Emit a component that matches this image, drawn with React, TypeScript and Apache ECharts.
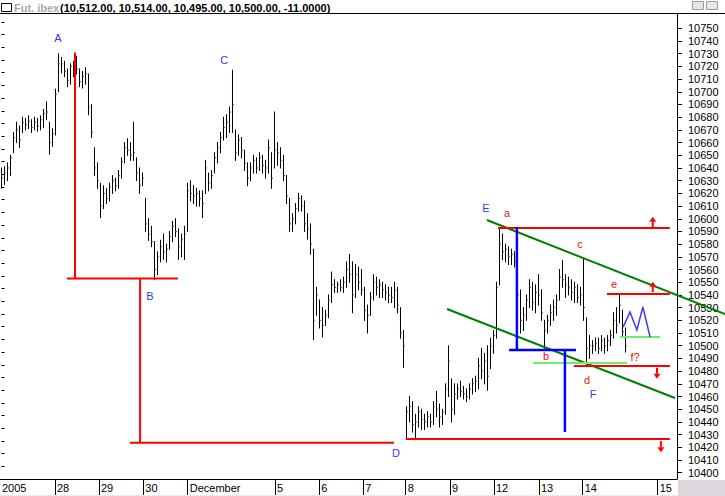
import React, { useEffect, useRef } from "react";
import * as echarts from "echarts";

// ---- price bars (one per slot, left to right) ----
const highs = [
  10640, 10641, 10644, 10650, 10668, 10676, 10673, 10680, 10679, 10681, 10678, 10680, 10679, 10681, 10686, 10692, 10676, 10671, 10702, 10730,
  10727, 10724, 10718, 10722, 10724, 10728, 10718, 10716, 10719, 10714, 10690, 10656, 10644, 10628, 10626, 10624, 10628, 10634, 10632, 10638,
  10648, 10660, 10663, 10660, 10676, 10648, 10640, 10636, 10616, 10600, 10594, 10582, 10574, 10583, 10588, 10580, 10590, 10598, 10600, 10592,
  10588, 10594, 10628, 10630, 10626, 10624, 10622, 10622, 10646, 10636, 10638, 10652, 10660, 10668, 10680, 10682, 10688, 10717, 10670, 10666,
  10664, 10654, 10644, 10644, 10650, 10648, 10652, 10650, 10646, 10662, 10652, 10684, 10660, 10656, 10650, 10634, 10616, 10604, 10612, 10620,
  10618, 10614, 10604, 10596, 10576, 10546, 10536, 10530, 10528, 10540, 10558, 10552, 10550, 10552, 10554, 10566, 10572, 10566, 10564, 10562,
  10560, 10546, 10532, 10542, 10556, 10554, 10552, 10550, 10548, 10546, 10546, 10550, 10546, 10530, 10512, 10452, 10460, 10456, 10446, 10452,
  10450, 10446, 10448, 10446, 10456, 10464, 10454, 10450, 10470, 10500, 10474, 10470, 10470, 10472, 10468, 10466, 10470, 10474, 10476, 10490,
  10498, 10494, 10500, 10506, 10512, 10550, 10593, 10588, 10580, 10578, 10576, 10574, 10566, 10544, 10530, 10540, 10552, 10550, 10548, 10556,
  10544, 10520, 10524, 10532, 10536, 10540, 10560, 10567, 10556, 10554, 10552, 10550, 10548, 10546, 10568, 10522, 10508, 10504, 10506, 10506,
  10508, 10506, 10508, 10512, 10526, 10530, 10540, 10528, 10514,
];
const lows = [
  10624, 10627, 10630, 10634, 10652, 10660, 10656, 10668, 10670, 10671, 10668, 10670, 10669, 10670, 10672, 10678, 10651, 10657, 10666, 10700,
  10715, 10712, 10704, 10706, 10712, 10714, 10704, 10703, 10706, 10682, 10664, 10634, 10624, 10601, 10608, 10612, 10614, 10620, 10622, 10624,
  10632, 10644, 10650, 10646, 10646, 10630, 10620, 10626, 10590, 10583, 10578, 10552, 10556, 10566, 10568, 10566, 10576, 10582, 10586, 10568,
  10570, 10568, 10590, 10614, 10612, 10610, 10610, 10601, 10620, 10622, 10624, 10636, 10644, 10652, 10662, 10664, 10668, 10668, 10646, 10650,
  10648, 10638, 10626, 10630, 10636, 10636, 10638, 10636, 10632, 10636, 10624, 10640, 10642, 10640, 10630, 10612, 10590, 10590, 10596, 10606,
  10606, 10590, 10584, 10572, 10505, 10524, 10514, 10507, 10516, 10522, 10534, 10542, 10542, 10543, 10542, 10546, 10550, 10526, 10538, 10544,
  10540, 10520, 10510, 10524, 10536, 10540, 10538, 10538, 10536, 10534, 10534, 10530, 10526, 10506, 10483, 10427, 10440, 10432, 10426, 10436,
  10434, 10434, 10436, 10436, 10438, 10444, 10436, 10438, 10446, 10460, 10440, 10446, 10458, 10460, 10458, 10456, 10458, 10462, 10464, 10466,
  10474, 10470, 10465, 10482, 10494, 10506, 10548, 10568, 10566, 10564, 10564, 10562, 10530, 10510, 10512, 10520, 10530, 10528, 10526, 10532,
  10520, 10498, 10510, 10516, 10520, 10524, 10536, 10546, 10538, 10540, 10536, 10534, 10534, 10532, 10520, 10485, 10490, 10494, 10496, 10494,
  10496, 10494, 10496, 10500, 10506, 10510, 10518, 10508, 10495,
];
const closes = [
  10632, 10636, 10640, 10648, 10664, 10670, 10662, 10676, 10674, 10677, 10672, 10676, 10673, 10678, 10683, 10684, 10660, 10667, 10698, 10722,
  10722, 10716, 10709, 10720, 10722, 10718, 10708, 10712, 10714, 10688, 10668, 10640, 10630, 10610, 10620, 10616, 10625, 10630, 10626, 10634,
  10645, 10656, 10654, 10650, 10652, 10636, 10626, 10632, 10596, 10588, 10582, 10560, 10570, 10578, 10574, 10576, 10586, 10594, 10590, 10578,
  10584, 10588, 10622, 10620, 10618, 10620, 10616, 10612, 10640, 10628, 10634, 10648, 10656, 10664, 10672, 10676, 10684, 10690, 10652, 10662,
  10654, 10644, 10632, 10640, 10646, 10640, 10648, 10642, 10640, 10656, 10632, 10654, 10652, 10646, 10634, 10618, 10596, 10600, 10608, 10616,
  10610, 10596, 10592, 10580, 10520, 10540, 10520, 10516, 10524, 10536, 10548, 10546, 10548, 10546, 10550, 10560, 10556, 10540, 10556, 10550,
  10544, 10528, 10524, 10538, 10550, 10546, 10548, 10544, 10542, 10540, 10538, 10544, 10532, 10510, 10500, 10448, 10452, 10438, 10440, 10448,
  10442, 10440, 10444, 10440, 10452, 10450, 10444, 10448, 10466, 10488, 10450, 10462, 10466, 10464, 10462, 10460, 10466, 10470, 10472, 10484,
  10480, 10488, 10476, 10500, 10508, 10546, 10580, 10574, 10576, 10570, 10572, 10566, 10540, 10520, 10524, 10536, 10546, 10534, 10542, 10540,
  10526, 10512, 10520, 10526, 10530, 10536, 10554, 10552, 10548, 10546, 10542, 10546, 10538, 10540, 10530, 10498, 10500, 10500, 10502, 10498,
  10504, 10500, 10504, 10508, 10520, 10516, 10532, 10511, 10500,
];

// ---- axes ----
const yearLabel = "2005";
const yearPos = -0.5;
const dayTickPos = [17.83, 32.5, 47.27, 62.07, 91.17, 105.93, 120.6, 134.73, 149.5, 164.17, 179.17, 193.73, 218.73];
const dayLabels = ["28", "29", "30", "December", "5", "6", "7", "8", "9", "12", "13", "14", "15"];
const yTickValues = [
  10400, 10410, 10420, 10430, 10440, 10450, 10460, 10470, 10480, 10490, 10500, 10510, 10520, 10530, 10540, 10550, 10560, 10570,
  10580, 10590, 10600, 10610, 10620, 10630, 10640, 10650, 10660, 10670, 10680, 10690, 10700, 10710, 10720, 10730, 10740, 10750,
];
const yMinorTickValues = [
  10405, 10415, 10425, 10435, 10445, 10455, 10465, 10475, 10485, 10495, 10505, 10515, 10525, 10535, 10545, 10555, 10565, 10575,
  10585, 10595, 10605, 10615, 10625, 10635, 10645, 10655, 10665, 10675, 10685, 10695, 10705, 10715, 10725, 10735, 10745, 10755,
];

// ---- header ----
const headerName = "Fut. ibex";
const headerValues = [10512, 10514, 10495, 10500];
const headerChange = -11;

// ---- annotations (x in bar slots, y in price) ----
const redSegments = [
  [[24.5, 10731], [24.5, 10553]],
  [[21.8, 10553], [58.8, 10553]],
  [[46.2, 10553], [46.2, 10423.5]],
  [[42.8, 10423.5], [130.8, 10423.5]],
  [[134.8, 10426.5], [222.8, 10426.5]],
  [[165.5, 10592.7], [222.8, 10592.7]],
  [[201.8, 10540.7], [222.8, 10540.7]],
  [[190.8, 10484], [222.8, 10484]],
];
const redArrows = [
  [217.1, 10593.5, 10601.6],
  [217.1, 10542.3, 10550.4],
  [218.5, 10482.7, 10474.0],
  [219.8, 10424.9, 10416.2],
];
const greenSegments = [
  [[161.8, 10599], [241.2, 10524.9]],
  [[148.5, 10528.9], [224.5, 10458.8]],
];
const lightGreenSegments = [
  [[177.2, 10486.4], [208.5, 10486.4]],
  [[206.2, 10506.9], [219.5, 10506.9]],
];
const blueSegments = [
  [[171.8, 10593.5], [171.8, 10496.6]],
  [[169.2, 10496.6], [191.5, 10496.6]],
  [[187.8, 10496.6], [187.8, 10432.1]],
];
const blueZigzag = [[207.2, 10514.7], [209.5, 10526.6], [211.8, 10512.4], [213.8, 10530.5], [216.2, 10506.9]];
const waveLabels: [string, number, number][] = [
  ["A", 18.8, 10742.4], ["B", 49.5, 10539.2], ["C", 74.2, 10725], ["D", 131.5, 10415.5], ["E", 161.5, 10608.5], ["F", 197.2, 10462.3],
];
const subLabels: [string, number, number][] = [
  ["a", 168.5, 10604.5], ["b", 181.5, 10491.9], ["c", 192.8, 10580.1], ["d", 195.2, 10473.1], ["e", 204.2, 10548.6], ["f?", 211.2, 10491.1],
];

const FONT = "'Liberation Sans', Arial, sans-serif";

type Shape =
  | { kind: "poly"; pts: number[][]; color: string; width: number }
  | { kind: "arrow"; x: number; from: number; to: number; color: string }
  | { kind: "text"; text: string; x: number; y: number; color: string };

function buildShapes(): Shape[] {
  const s: Shape[] = [];
  greenSegments.forEach((p) => s.push({ kind: "poly", pts: p, color: "#008000", width: 2 }));
  lightGreenSegments.forEach((p) => s.push({ kind: "poly", pts: p, color: "#6bf06b", width: 2 }));
  redSegments.forEach((p) => s.push({ kind: "poly", pts: p, color: "#ff0000", width: 2 }));
  redArrows.forEach((a) => s.push({ kind: "arrow", x: a[0], from: a[1], to: a[2], color: "#ff0000" }));
  blueSegments.forEach((p) => s.push({ kind: "poly", pts: p, color: "#0000ff", width: 2.5 }));
  s.push({ kind: "poly", pts: blueZigzag, color: "#3d3dff", width: 1.5 });
  waveLabels.forEach((l) => s.push({ kind: "text", text: l[0], x: l[1], y: l[2], color: "#3535ff" }));
  subLabels.forEach((l) => s.push({ kind: "text", text: l[0], x: l[1], y: l[2], color: "#f01010" }));
  return s;
}

export default function App() {
  const ref = useRef<HTMLDivElement>(null);
  useEffect(() => {
    if (!ref.current) return;
    const chart = echarts.init(ref.current, null, { renderer: "svg" });
    const shapes = buildShapes();
    const allLabelPos = [yearPos, ...dayTickPos];
    const allLabelText = [yearLabel, ...dayLabels];
    const fmt = (v: number) => v.toLocaleString("en-US", { minimumFractionDigits: 2, maximumFractionDigits: 2 });
    const headerText = "(" + headerValues.map(fmt).join(", ") + ", " + headerChange.toFixed(4) + ")";
    const yMin = 10395.04;
    const yMax = 10761.26;

    chart.setOption({
      animation: false,
      backgroundColor: "#ffffff",
      grid: { left: 0, top: 14, width: 677, height: 465, containLabel: false, outerBoundsMode: "none" },
      xAxis: {
        type: "value",
        min: -0.5,
        max: 225.17,
        splitLine: { show: false },
        axisLine: { show: true, onZero: false, lineStyle: { color: "#000", width: 1 } },
        axisTick: { show: true, length: 16, customValues: dayTickPos, lineStyle: { color: "#000" } },
        axisLabel: {
          customValues: allLabelPos,
          formatter: (v: number) => {
            const i = allLabelPos.findIndex((p) => Math.abs(p - v) < 0.01);
            return i >= 0 ? allLabelText[i] : "";
          },
          align: "left",
          padding: [0, 0, 0, 2],
          margin: 3,
          fontSize: 11,
          fontFamily: FONT,
          color: "#000",
        },
      },
      yAxis: [
        {
          type: "value",
          position: "right",
          min: yMin,
          max: yMax,
          splitLine: { show: false },
          axisLine: { show: true, onZero: false, lineStyle: { color: "#000", width: 1 } },
          axisTick: { show: true, length: 5, customValues: yTickValues, lineStyle: { color: "#000" } },
          axisLabel: {
            customValues: yTickValues,
            margin: 11,
            fontSize: 11,
            fontFamily: FONT,
            color: "#000",
            formatter: (v: number) => String(v),
          },
        },
        {
          type: "value",
          position: "right",
          offset: 0,
          min: yMin,
          max: yMax,
          splitLine: { show: false },
          axisLine: { show: false },
          axisTick: { show: true, length: 3, customValues: yMinorTickValues, lineStyle: { color: "#000" } },
          axisLabel: { show: false },
        },
      ],
      series: [
        {
          type: "custom",
          name: "bars",
          data: highs.map((h, i) => [i, h, lows[i], closes[i]]),
          encode: { x: 0, y: [1, 2, 3] },
          renderItem: (params: any, api: any) => {
            const x = api.value(0);
            const top = api.coord([x, api.value(1)]);
            const bot = api.coord([x, api.value(2)]);
            const cl = api.coord([x, api.value(3)]);
            return {
              type: "group",
              silent: true,
              children: [
                { type: "line", shape: { x1: top[0], y1: top[1] - 0.5, x2: bot[0], y2: bot[1] + 0.5 }, style: { stroke: "#000", lineWidth: 1 } },
                { type: "line", shape: { x1: cl[0], y1: cl[1], x2: cl[0] + 1.5, y2: cl[1] }, style: { stroke: "#555", lineWidth: 1 } },
              ],
            };
          },
        },
        {
          type: "custom",
          name: "annotations",
          clip: false,
          z: 5,
          data: shapes.map(() => [0, 10500]),
          encode: { x: 0, y: 1 },
          renderItem: (params: any, api: any) => {
            const s = shapes[params.dataIndex];
            if (s.kind === "poly") {
              const pts = s.pts.map((p) => api.coord(p));
              return { type: "polyline", silent: true, shape: { points: pts }, style: { stroke: s.color, lineWidth: s.width, fill: null } };
            }
            if (s.kind === "arrow") {
              const p1 = api.coord([s.x, s.from]);
              const p2 = api.coord([s.x, s.to]);
              const dir = p2[1] > p1[1] ? 1 : -1;
              const baseY = p2[1] - dir * 5;
              return {
                type: "group",
                silent: true,
                children: [
                  { type: "line", shape: { x1: p1[0], y1: p1[1], x2: p1[0], y2: baseY }, style: { stroke: s.color, lineWidth: 2 } },
                  { type: "polygon", shape: { points: [[p2[0], p2[1]], [p2[0] - 3.5, baseY], [p2[0] + 3.5, baseY]] }, style: { fill: s.color } },
                ],
              };
            }
            const p = api.coord([s.x, s.y]);
            return {
              type: "text",
              silent: true,
              x: p[0],
              y: p[1],
              style: { text: s.text, fill: s.color, font: "11px " + FONT, align: "center", verticalAlign: "middle" },
            };
          },
        },
      ],
      graphic: [
        { type: "line", shape: { x1: 0, y1: 13.5, x2: 725, y2: 13.5 }, style: { stroke: "#000", lineWidth: 1 }, silent: true },
        { type: "rect", shape: { x: 1.5, y: 3.5, width: 10, height: 8 }, style: { fill: "#fff", stroke: "#000", lineWidth: 1 }, silent: true },
        { type: "text", x: 14, y: 8, style: { text: headerName, fill: "#a8a8a8", font: "bold 11px " + FONT, verticalAlign: "middle" }, silent: true },
        { type: "text", x: 60, y: 8, style: { text: headerText, fill: "#000", font: "bold 11px " + FONT, verticalAlign: "middle" }, silent: true },
        { type: "rect", shape: { x: 692.5, y: 1.5, width: 11, height: 8 }, style: { fill: "#e6e6e6", stroke: "#9a9a9a", lineWidth: 1 }, silent: true },
        { type: "rect", shape: { x: 706.5, y: 1.5, width: 11, height: 8 }, style: { fill: "#e6e6e6", stroke: "#9a9a9a", lineWidth: 1 }, silent: true },
        { type: "rect", shape: { x: 678, y: 480, width: 47, height: 16 }, style: { fill: "#ddd6dd" }, silent: true },
        { type: "line", shape: { x1: 0, y1: 495.5, x2: 678, y2: 495.5 }, style: { stroke: "#e0d8e0", lineWidth: 1, lineDash: [1, 1] }, silent: true },
      ],
    });
    return () => chart.dispose();
  }, []);
  return (
    <div
      ref={ref}
      style={{ position: "fixed", left: 0, top: 0, width: 725, height: 496, background: "#fff" }}
    />
  );
}
